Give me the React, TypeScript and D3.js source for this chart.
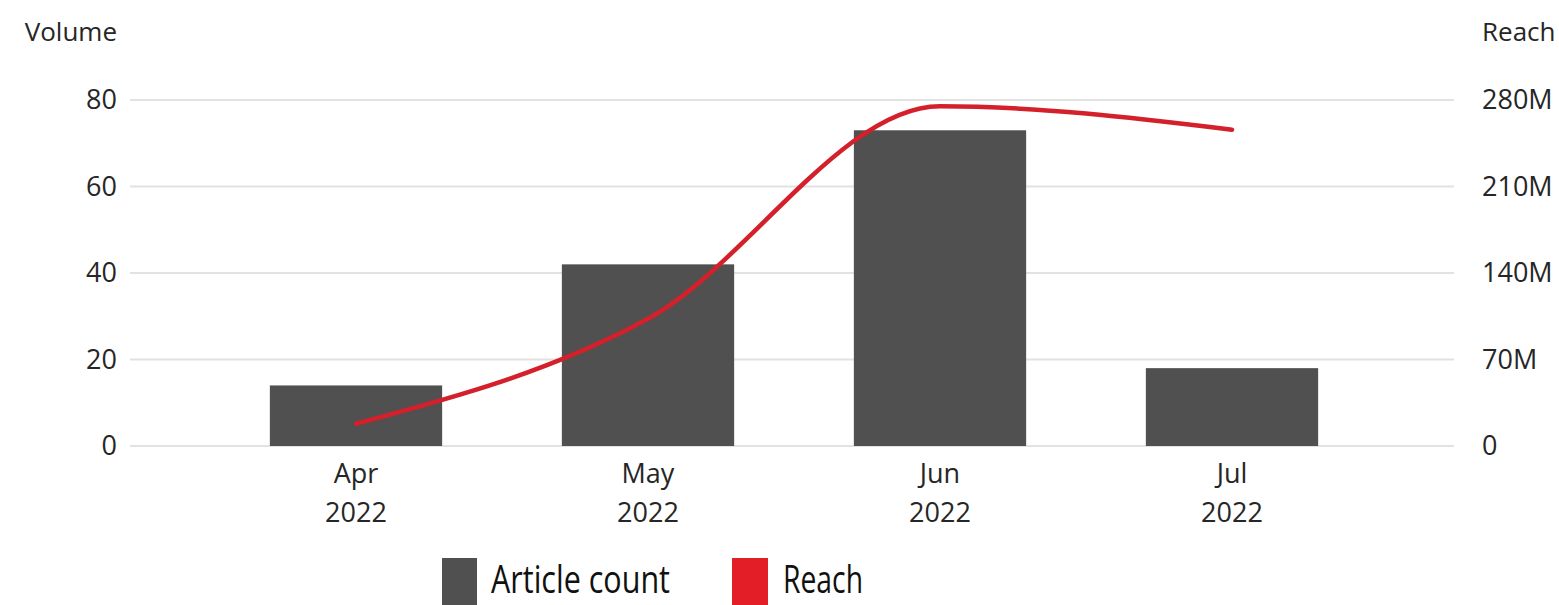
import React from 'react';
import * as d3 from 'd3';

const months = ['Apr', 'May', 'Jun', 'Jul'];
const years = ['2022', '2022', '2022', '2022'];
const articleCount = [14, 42, 73, 18];
const reach = [18e6, 103e6, 275e6, 256e6];
const volumeTicks = [0, 20, 40, 60, 80];
const reachTicks = [0, 70e6, 140e6, 210e6, 280e6];
const reachTickLabels = ['0', '70M', '140M', '210M', '280M'];

const width = 1559;
const height = 605;
const font = '"Open Sans", "Noto Sans", sans-serif';
const barColor = '#505050';
const lineColor = '#d4202a';
const textColor = '#262626';

export default function App() {
    // left/right edges of the gridlines, and where the bands sit
    const gridLeft = 130;
    const gridRight = 1454;

    const x = d3.scaleBand<string>()
        .domain(months)
        .range([210, 1378])
        .paddingInner(0.41)
        .paddingOuter(0.205);

    const yLeft = d3.scaleLinear().domain([0, 80]).range([446, 100]);
    const yRight = d3.scaleLinear().domain([0, 280e6]).range([446, 100]);

    const line = d3.line<number>()
        .x((_, i) => (x(months[i]) as number) + x.bandwidth() / 2)
        .y(d => yRight(d))
        .curve(d3.curveMonotoneX);

    return (
        <div style={{ position: 'fixed', left: 0, top: 0 }}>
            <svg width={width} height={height} style={{ display: 'block', background: '#fff' }}>
                {/* gridlines */}
                {volumeTicks.map(t => (
                    <line key={'g' + t} x1={gridLeft} x2={gridRight} y1={yLeft(t)} y2={yLeft(t)}
                        stroke="#e2e2e2" strokeWidth={2} />
                ))}

                {/* axis titles */}
                <text x={117} y={41} textAnchor="end" fontFamily={font} fontSize={26} fill={textColor}>Volume</text>
                <text x={1482} y={41} textAnchor="start" fontFamily={font} fontSize={26} fill={textColor}>Reach</text>

                {/* left ticks */}
                {volumeTicks.map(t => (
                    <text key={'l' + t} x={117} y={yLeft(t)} dy="0.35em" textAnchor="end"
                        fontFamily={font} fontSize={27} fill={textColor}>{t}</text>
                ))}

                {/* right ticks */}
                {reachTicks.map((t, i) => (
                    <text key={'r' + t} x={1482} y={yRight(t)} dy="0.35em" textAnchor="start"
                        fontFamily={font} fontSize={27} fill={textColor}>{reachTickLabels[i]}</text>
                ))}

                {/* bars */}
                {articleCount.map((v, i) => (
                    <rect key={'b' + i} x={x(months[i])} y={yLeft(v)} width={x.bandwidth()}
                        height={yLeft(0) - yLeft(v)} fill={barColor} />
                ))}

                {/* reach line */}
                <path d={line(reach) || ''} fill="none" stroke={lineColor} strokeWidth={4.5} strokeLinecap="round" />

                {/* x labels */}
                {months.map((m, i) => (
                    <text key={'x' + m} x={(x(m) as number) + x.bandwidth() / 2} textAnchor="middle"
                        fontFamily={font} fontSize={27} fill={textColor}>
                        <tspan x={(x(m) as number) + x.bandwidth() / 2} y={483}>{m}</tspan>
                        <tspan x={(x(m) as number) + x.bandwidth() / 2} y={522}>{years[i]}</tspan>
                    </text>
                ))}

                {/* legend */}
                <rect x={442} y={558} width={35} height={47} fill={barColor} />
                <text x={491} y={593} fontFamily={font} fontSize={39} fill="#111"
                    textLength={179} lengthAdjust="spacingAndGlyphs">Article count</text>
                <rect x={732} y={558} width={36} height={47} fill="#e41e26" />
                <text x={783} y={593} fontFamily={font} fontSize={39} fill="#111"
                    textLength={80} lengthAdjust="spacingAndGlyphs">Reach</text>
            </svg>
        </div>
    );
}
